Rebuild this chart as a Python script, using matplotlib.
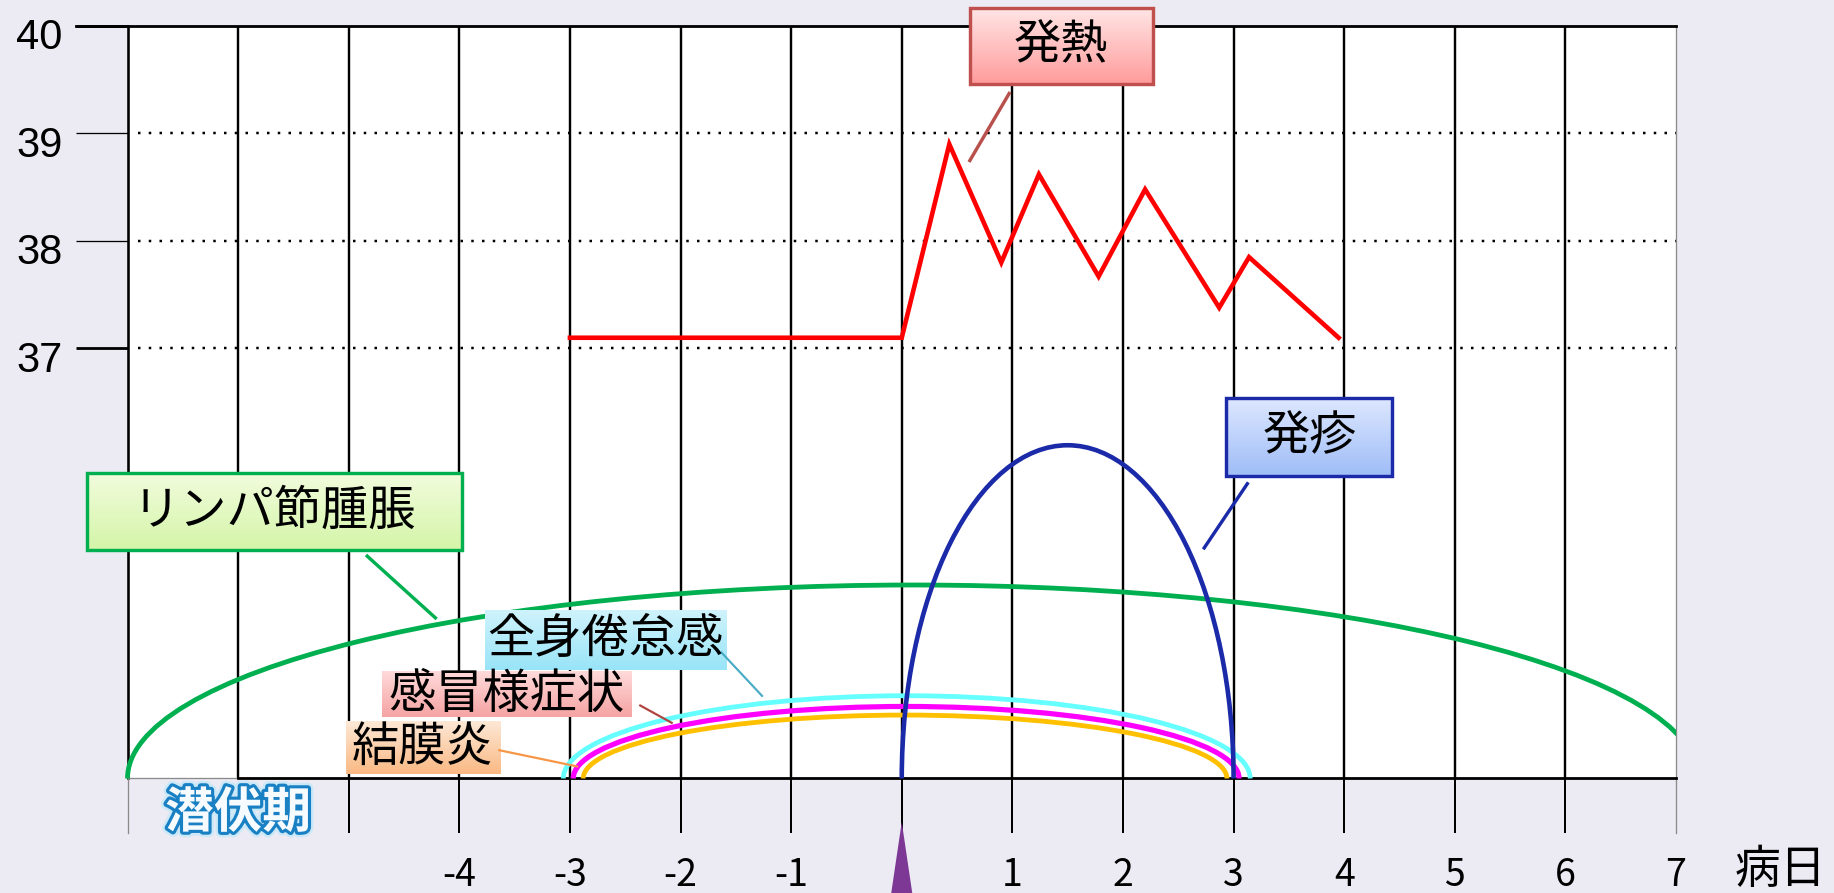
import numpy as np
import matplotlib
matplotlib.use("Agg")
import matplotlib.pyplot as plt
from matplotlib.patches import Arc, Rectangle, Polygon
import matplotlib.patheffects as pe
from matplotlib.transforms import ScaledTranslation

plt.rcParams['font.family'] = ['Noto Sans CJK JP', 'DejaVu Sans']

# ---- data -------------------------------------------------------------
# body temperature over the course of illness (day, deg C)
fever_day = [-3, 0, 0.43, 0.90, 1.24, 1.78, 2.20, 2.87, 3.14, 3.95]
fever_temp = [37.1, 37.1, 38.9, 37.8, 38.62, 37.67, 38.48, 37.38, 37.85, 37.1]
fever_label = '発熱'

# symptom periods: start day, end day, arc height on the chart scale
symptom_names = ['リンパ節腫脹', '発疹', '全身倦怠感', '感冒様症状', '結膜炎']
symptom_start = [-7.0, 0.0, -3.06, -2.97, -2.88]
symptom_end = [7.2, 3.0, 3.15, 3.05, 2.94]
symptom_peak = [34.8, 36.1, 33.77, 33.67, 33.59]
symptom_colors = ['#00B050', '#1B2AA8', '#66FFFF', '#FF00FF', '#FFC000']

temp_ticks = [37, 38, 39, 40]
temp_labels = ['37', '38', '39', '40']
day_ticks = [-4, -3, -2, -1, 1, 2, 3, 4, 5, 6, 7]
day_labels = ['-4', '-3', '-2', '-1', '1', '2', '3', '4', '5', '6', '7']
grid_days = list(range(-7, 8))
incubation_label = '潜伏期'
day_unit = '病日'
BASE = 33

# ---- figure -------------------------------------------------------------
W, H = 1834, 893
BG = '#ECEBF4'
fig = plt.figure(figsize=(W / 100, H / 100), dpi=100, facecolor=BG)
L, R, T, B = 127.5, 1676, 26, 778.5
ax = fig.add_axes([L / W, (H - B) / H, (R - L) / W, (B - T) / H])
ax.set_facecolor('white')
for s in ax.spines.values():
    s.set_visible(False)

PX = 0.72  # points per pixel at 100 dpi
below = BASE - 54.5 / 107.5   # lower end of the day ticks under the axis

# vertical day lines inside the chart
ax.vlines([d for d in grid_days if -7 < d < 7], BASE, 40, colors='black', lw=2.4 * PX, zorder=1)
ax.plot([-7, -7], [BASE, 40], color='black', lw=2.6 * PX, clip_on=False, zorder=1)
ax.plot([7, 7], [below, 40], color='#8a8a8a', lw=1.3 * PX, clip_on=False, zorder=1)
# day ticks below the axis
ax.vlines([d for d in grid_days if -5 <= d <= 6], below, BASE, colors='black',
          lw=2.0 * PX, clip_on=False, zorder=1)
ax.plot([-7, -7], [below, BASE], color='#8a8a8a', lw=1.3 * PX, clip_on=False, zorder=1)

# dotted temperature guides
ax.hlines([37, 38, 39], -6.905, 7, colors='black', linestyles=[(0, (1, 3.3))],
          lw=2.5 * PX, zorder=1)
# top line and baseline
ax.plot([-7.466, 7], [40, 40], color='black', lw=2.8 * PX, clip_on=False, zorder=2)
ax.plot([-7, -6], [BASE, BASE], color='#8a8a8a', lw=1.3 * PX, clip_on=False, zorder=2)
ax.plot([-6, 7], [BASE, BASE], color='black', lw=2.8 * PX, clip_on=False, zorder=2)

# ---- symptom arcs -------------------------------------------------------------
clip_rect = Rectangle((-7.4, BASE - 0.5), 14.4, 9, transform=ax.transData)
arc_lw = [4.8, 4.6, 4.8, 5.2, 4.8]
arc_z = [3, 6, 4, 4.1, 4.2]
for i in range(len(symptom_names)):
    cx = (symptom_start[i] + symptom_end[i]) / 2
    arc = Arc((cx, BASE), symptom_end[i] - symptom_start[i], 2 * (symptom_peak[i] - BASE),
              theta1=0, theta2=180, edgecolor=symptom_colors[i], lw=arc_lw[i] * PX,
              zorder=arc_z[i])
    ax.add_patch(arc)
    arc.set_clip_path(clip_rect)

# fever line
ax.plot(fever_day, fever_temp, color='#FF0000', lw=4.6 * PX, zorder=7, solid_joinstyle='miter')


# ---- callout boxes -------------------------------------------------------------
def callout(text, x0, x1, y0, y1, top, bottom, edge, leader, lcolor, llw):
    c0 = np.array(matplotlib.colors.to_rgb(top))
    c1 = np.array(matplotlib.colors.to_rgb(bottom))
    t = np.linspace(0, 1, 64)[:, None, None]
    grad = c0 * (1 - t) + c1 * t
    ax.imshow(grad, extent=[x0, x1, y0, y1], aspect='auto', origin='upper',
              interpolation='bilinear', zorder=8, clip_on=False)
    if edge:
        ax.add_patch(Rectangle((x0, y0), x1 - x0, y1 - y0, fill=False, edgecolor=edge,
                               lw=3.4 * PX, zorder=9, clip_on=False))
    ax.text((x0 + x1) / 2, (y0 + y1) / 2, text, ha='center', va='center',
            fontsize=34, color='black', zorder=10, clip_on=False)
    ax.plot(leader[0], leader[1], color=lcolor, lw=llw * PX, zorder=8,
            clip_on=False, solid_capstyle='butt')


callout(fever_label, 0.617, 2.269, 39.458, 40.165, '#FFE6E6', '#FF9C9C', '#C0504D',
        ([0.979, 0.608], [39.386, 38.735]), '#B8504C', 3.4)
callout(symptom_names[1], 2.935, 4.436, 35.817, 36.537, '#DDE7FF', '#9FBDF7', '#1B2AA8',
        ([3.133, 2.726], [35.755, 35.132]), '#1B2AA8', 3.4)
callout(symptom_names[0], -7.366, -3.976, 35.126, 35.839, '#F2FCDD', '#D4F5A8', '#00B050',
        ([-4.844, -4.205], [35.079, 34.484]), '#00B050', 3.4)
callout(symptom_names[2], -3.768, -1.589, 34.009, 34.567, '#CFF3FC', '#99E4F8', None,
        ([-1.637, -1.256], [34.180, 33.761]), '#4BACC6', 2.2)
callout(symptom_names[3], -4.696, -2.442, 33.569, 33.993, '#FFDADA', '#F5A3A3', None,
        ([-2.373, -2.071], [33.684, 33.513]), '#B0443F', 2.2)
callout(symptom_names[4], -5.025, -3.632, 33.042, 33.528, '#FDE8D6', '#FAB984', None,
        ([-3.648, -2.924], [33.265, 33.110]), '#F79646', 2.2)

# onset marker under day 0
tip = BASE - 43.5 / 107.5
bottom_edge = BASE - (H - B) / 107.5
ax.add_patch(Polygon([(-0.095, bottom_edge), (0, tip), (0.095, bottom_edge)], closed=True,
                     facecolor='#7D3895', edgecolor='none', zorder=5, clip_on=False))

# incubation period label
ax.text(-6, BASE - 34.5 / 107.5, incubation_label, ha='center', va='center', fontsize=35,
        fontweight='bold', color='#F6FBFF', zorder=10, clip_on=False,
        path_effects=[pe.withStroke(linewidth=8, foreground='#CBE8F8'),
                      pe.withStroke(linewidth=4.5, foreground='#1A80C4')])

# ---- axes ticks -------------------------------------------------------------
ax.set_xlim(-7, 7)
ax.set_ylim(BASE, 40)
ax.set_yticks(temp_ticks, temp_labels, fontsize=30, fontfamily='Liberation Sans')
ax.tick_params(axis='y', length=52 * PX, pad=13 * PX, color='black')
for tk, w in zip(ax.yaxis.get_major_ticks(), [2.8, 1.3, 1.3, 2.8]):
    tk.tick1line.set_markeredgewidth(w * PX)
for lab in ax.get_yticklabels():
    lab.set_transform(lab.get_transform() + ScaledTranslation(0, -0.08, fig.dpi_scale_trans))

ax.set_xticks(day_ticks, day_labels, fontsize=27)
ax.tick_params(axis='x', length=0, pad=56)
ax.text(7.949, BASE - 91.5 / 107.5, day_unit, ha='center', va='center', fontsize=33,
        clip_on=False)

fig.savefig('out.png', dpi=100, facecolor=BG)
